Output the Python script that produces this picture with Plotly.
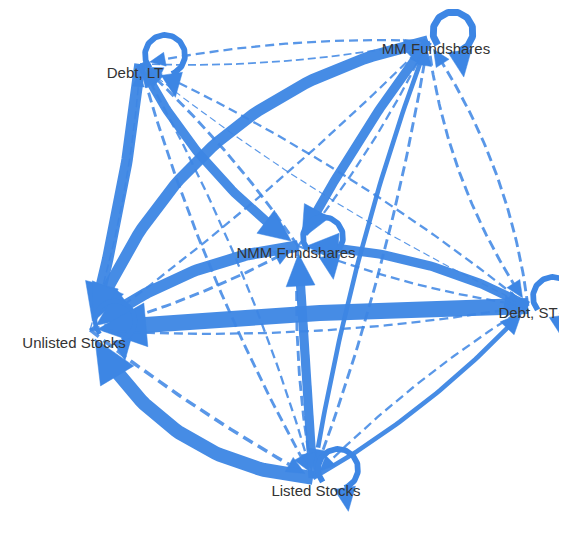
import numpy as np
import plotly.graph_objects as go

# ---- data ----
nodes = ["Debt, LT", "MM Fundshares", "NMM Fundshares", "Debt, ST", "Unlisted Stocks", "Listed Stocks"]
node_x = [132, 420, 290, 520, 82, 305]
node_y = [56, 33, 238, 298, 322, 470]

edge_src = [0, 1, 0, 2, 0, 3, 0, 4, 0, 5, 1, 2, 1, 3, 1, 4, 1, 5, 2, 3, 2, 4, 2, 5, 3, 4, 3, 5, 4, 5]
edge_dst = [1, 0, 2, 0, 3, 0, 4, 0, 5, 0, 2, 1, 3, 1, 4, 1, 5, 1, 3, 2, 4, 2, 5, 2, 4, 3, 5, 3, 5, 4]
edge_val = [1.5, 2.0, 8, 2.5, 1.0, 2.0, 10, 1.2, 2.5, 2.0, 8, 2.0, 2.5, 2.5, 10, 2.0, 4, 2.5,
            2.0, 8, 10, 2.5, 2.5, 8, 14, 2.0, 2.0, 4, 3.0, 12]
edge_curv = [0.06, 0.06, 0.12, 0.06, 0.06, 0.06, -0.04, 0.06, 0.06, 0.06, 0.04, 0.06, 0.12, 0.12,
             0.27, 0.04, 0.05, 0.05, 0.06, 0.12, 0.14, 0.06, 0.06, 0.0, 0.02, 0.06, 0.06, 0.08, 0.04, -0.27]
loop_val = [5, 6, 5, 5, 4, 5]

COLOR = "#3d86e4"
DASH_LIMIT = 3.5
WSCALE = 1.15
LABEL_DX = [-5, 8, -2, 0, -16, 3]
LABEL_DY = [10, 9, 8, 8, 14, 14]

fig = go.Figure()


def bezier(p0, p1, c, n=60):
    p0 = np.array(p0, float); p1 = np.array(p1, float)
    d = p1 - p0
    L = np.hypot(*d)
    perp = np.array([-d[1], d[0]]) / L
    ctrl = (p0 + p1) / 2 + c * L * perp
    t = np.linspace(0, 1, n)[:, None]
    return (1 - t) ** 2 * p0 + 2 * (1 - t) * t * ctrl + t ** 2 * p1


def arrow_len(w):
    return 10 + 2.4 * w


def arrow(tip, direction, w):
    direction = np.array(direction, float)
    direction = direction / np.hypot(*direction)
    length = arrow_len(w)
    half = 0.45 * length
    base = np.array(tip) - direction * length
    perp = np.array([-direction[1], direction[0]])
    pts = [tip, base + perp * half, base - perp * half, tip]
    xs = [p[0] for p in pts]; ys = [p[1] for p in pts]
    fig.add_trace(go.Scatter(x=xs, y=ys, mode="lines", fill="toself", fillcolor=COLOR,
                             line=dict(color=COLOR, width=0.5), hoverinfo="skip", showlegend=False))


for s, t, v, c in zip(edge_src, edge_dst, edge_val, edge_curv):
    w = v * WSCALE
    p0 = (node_x[s], node_y[s]); p1 = (node_x[t], node_y[t])
    pts = bezier(p0, p1, c)
    dist = np.hypot(pts[:, 0] - p1[0], pts[:, 1] - p1[1])
    pts = pts[dist > 7]
    tip = pts[-1]
    length = arrow_len(w)
    dl = np.hypot(pts[:, 0] - tip[0], pts[:, 1] - tip[1])
    line_pts = pts[dl > length * 0.8]
    direction = tip - pts[-4]
    dashed = v < DASH_LIMIT
    fig.add_trace(go.Scatter(x=line_pts[:, 0], y=line_pts[:, 1], mode="lines",
                             line=dict(color=COLOR, width=w,
                                       dash=("%dpx,%dpx" % (6 + 1.5 * w, 3 + w)) if dashed else "solid"),
                             opacity=0.95 if not dashed else 0.85,
                             hoverinfo="skip", showlegend=False))
    arrow(tip, direction, w)

# self loops
for i, v in enumerate(loop_val):
    w = v * WSCALE
    cx = node_x[i] + 25; cy = node_y[i] - 9; r = 20
    th = np.linspace(np.deg2rad(140), np.deg2rad(140 + 290), 80)
    fig.add_trace(go.Scatter(x=cx + r * np.cos(th), y=cy + r * np.sin(th), mode="lines",
                             line=dict(color=COLOR, width=w), hoverinfo="skip", showlegend=False))
    a = np.deg2rad(70)
    base = np.array([cx + r * np.cos(a), cy + r * np.sin(a)])
    direction = np.array([0.15, 1.0])
    arrow(base + direction / np.hypot(*direction) * arrow_len(w), direction, w)

# labels
fig.add_trace(go.Scatter(x=[x + dx for x, dx in zip(node_x, LABEL_DX)],
                         y=[y + dy for y, dy in zip(node_y, LABEL_DY)],
                         mode="text", text=nodes,
                         textfont=dict(family="Liberation Sans, Arial", size=15, color="#333333"),
                         hoverinfo="skip", showlegend=False))

fig.update_layout(width=567, height=533, margin=dict(l=0, r=0, t=0, b=0),
                  plot_bgcolor="white", paper_bgcolor="white",
                  xaxis=dict(range=[0, 567], visible=False, fixedrange=True),
                  yaxis=dict(range=[533, 0], visible=False, fixedrange=True))
fig.write_html("out.html")
